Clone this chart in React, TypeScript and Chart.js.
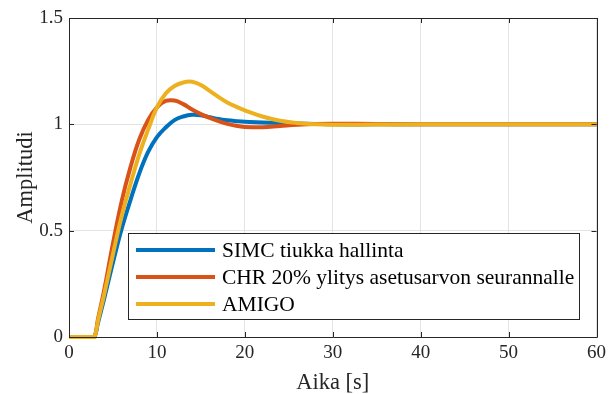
import React, { useEffect, useRef } from "react";
import { Chart, registerables } from "chart.js";

Chart.register(...registerables);

const timeS = [0, 1, 2, 2.5, 2.9, 3.3, 4, 5, 6, 7, 8, 9, 10, 11, 12, 13, 14, 15, 16, 17, 18, 19, 20, 22, 24, 26, 28, 30, 35, 40, 45, 50, 55, 60];
const simc = [0, 0, 0, 0, 0, 0.067, 0.18, 0.35, 0.51, 0.645, 0.77, 0.87, 0.94, 0.985, 1.02, 1.037, 1.045, 1.043, 1.034, 1.025, 1.019, 1.015, 1.012, 1.009, 1.006, 1.004, 1.002, 1.0, 1.0, 1.0, 1.0, 1.0, 1.0, 1.0];
const chr = [0, 0, 0, 0, 0, 0.085, 0.22, 0.44, 0.64, 0.8, 0.93, 1.02, 1.08, 1.11, 1.112, 1.095, 1.07, 1.048, 1.03, 1.015, 1.002, 0.993, 0.988, 0.986, 0.992, 0.998, 1.002, 1.003, 1.002, 1.0, 1.0, 1.0, 1.0, 1.0];
const amigo = [0, 0, 0, 0, 0, 0.077, 0.2, 0.39, 0.57, 0.72, 0.86, 0.975, 1.08, 1.145, 1.18, 1.197, 1.2, 1.185, 1.157, 1.129, 1.103, 1.083, 1.066, 1.037, 1.017, 1.006, 1.0, 0.998, 0.999, 1.0, 1.0, 1.0, 1.0, 1.0];
const seriesLabels = ["SIMC tiukka hallinta", "CHR 20% ylitys asetusarvon seurannalle", "AMIGO"];
const seriesColors = ["#0072BD", "#D95319", "#EDB120"];
const xTicks = [0, 10, 20, 30, 40, 50, 60];
const yTicks = [0, 0.5, 1, 1.5];

const FONT = "'Liberation Serif', 'Times New Roman', serif";

const boxPlugin = {
  id: "matlabBox",
  afterDatasetsDraw(chart: any) {
    const ctx = chart.ctx;
    const { left, top, right, bottom } = chart.chartArea;
    const xs = chart.scales.x;
    const ys = chart.scales.y;
    ctx.save();
    ctx.strokeStyle = "#262626";
    ctx.lineWidth = 1;
    ctx.beginPath();
    ctx.rect(Math.round(left) + 0.5, Math.round(top) + 0.5, Math.round(right - left), Math.round(bottom - top));
    ctx.stroke();
    ctx.beginPath();
    xTicks.forEach((v) => {
      const px = Math.round(xs.getPixelForValue(v)) + 0.5;
      ctx.moveTo(px, bottom);
      ctx.lineTo(px, bottom - 5);
      ctx.moveTo(px, top);
      ctx.lineTo(px, top + 5);
    });
    yTicks.forEach((v) => {
      const py = Math.round(ys.getPixelForValue(v)) + 0.5;
      ctx.moveTo(left, py);
      ctx.lineTo(left + 5, py);
      ctx.moveTo(right, py);
      ctx.lineTo(right - 5, py);
    });
    ctx.stroke();

    // legend
    const lx = 128.5, ly = 233.5, lw = 451, lh = 86;
    ctx.fillStyle = "#ffffff";
    ctx.fillRect(lx, ly, lw, lh);
    ctx.strokeStyle = "#262626";
    ctx.strokeRect(lx, ly, lw, lh);
    ctx.font = `21.5px ${FONT}`;
    ctx.textBaseline = "middle";
    ctx.textAlign = "left";
    seriesLabels.forEach((lab, i) => {
      const y = 250 + i * 27;
      ctx.strokeStyle = seriesColors[i];
      ctx.lineWidth = 4;
      ctx.beginPath();
      ctx.moveTo(136, y);
      ctx.lineTo(215, y);
      ctx.stroke();
      ctx.fillStyle = "#000000";
      ctx.fillText(lab, 222, y + 1);
    });
    ctx.restore();
  },
};

export default function App() {
  const ref = useRef<HTMLCanvasElement>(null);
  useEffect(() => {
    document.body.style.margin = "0";
    const seriesValues = [simc, chr, amigo];
    const chart = new Chart(ref.current!, {
      type: "line",
      data: {
        datasets: seriesValues.map((vals, i) => ({
          label: seriesLabels[i],
          data: timeS.map((t, j) => ({ x: t, y: vals[j] })),
          borderColor: seriesColors[i],
          backgroundColor: seriesColors[i],
          borderWidth: 4,
          pointRadius: 0,
          tension: 0.4,
          clip: 4,
          order: 2 - i,
        })),
      },
      options: {
        animation: false,
        responsive: false,
        maintainAspectRatio: false,
        layout: { padding: { top: 18, right: 10, left: 0, bottom: 0 } },
        plugins: { legend: { display: false }, tooltip: { enabled: false } },
        scales: {
          x: {
            type: "linear",
            min: 0,
            max: 60,
            afterBuildTicks: (s: any) => { s.ticks = xTicks.map((v) => ({ value: v })); },
            afterFit: (s: any) => { s.height = 57; },
            grid: { color: "#e3e3e3", drawTicks: false },
            border: { display: false },
            ticks: { color: "#262626", font: { family: FONT, size: 19 }, padding: 5, maxRotation: 0 },
            title: { display: true, text: "Aika [s]", color: "#262626", font: { family: FONT, size: 22.5 }, padding: { top: 0, bottom: -3 } },
          },
          y: {
            type: "linear",
            min: 0,
            max: 1.5,
            afterBuildTicks: (s: any) => { s.ticks = yTicks.map((v) => ({ value: v })); },
            afterFit: (s: any) => { s.width = 69; },
            grid: { color: "#e3e3e3", drawTicks: false },
            border: { display: false },
            ticks: { color: "#262626", font: { family: FONT, size: 19 }, padding: 6, callback: (v: any) => String(v) },
            title: { display: true, text: "Amplitudi", color: "#262626", font: { family: FONT, size: 22.5 }, padding: { top: 13, bottom: 0 } },
          },
        },
      },
      plugins: [boxPlugin],
    });
    return () => chart.destroy();
  }, []);
  return (
    <div style={{ width: 611, height: 394, background: "#fff" }}>
      <canvas ref={ref} width={611} height={394} style={{ display: "block" }} />
    </div>
  );
}
